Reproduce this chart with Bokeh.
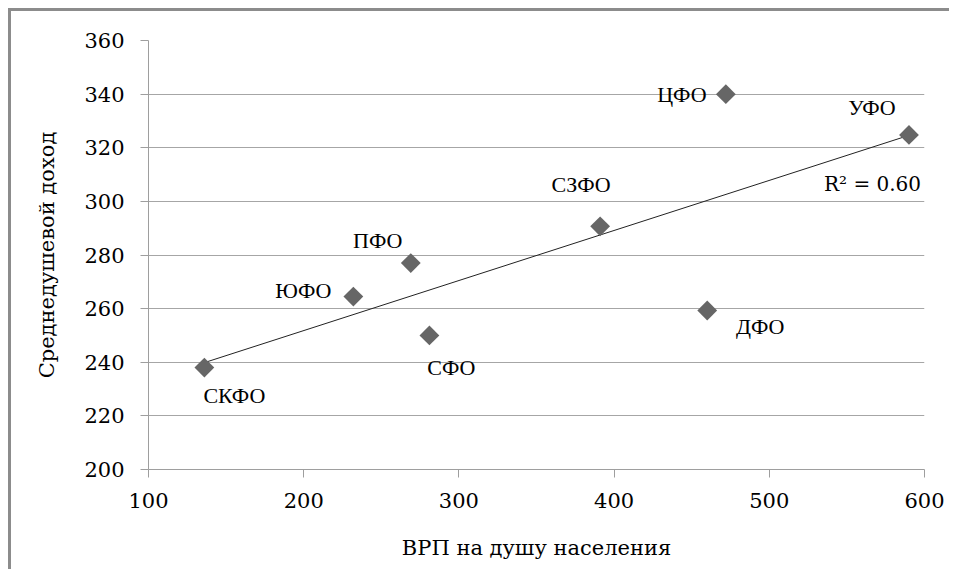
import numpy as np
from bokeh.plotting import figure
from bokeh.models import ColumnDataSource, FixedTicker, Label, LabelSet
from bokeh.embed import file_html
from bokeh.resources import INLINE

# Data
districts = ["СКФО", "ЮФО", "ПФО", "СФО", "СЗФО", "ДФО", "ЦФО", "УФО"]
grp_per_capita = [136, 232, 269, 281, 391, 460, 472, 590]
avg_income = [238, 264.5, 277, 250, 290.7, 259.3, 340, 324.8]
x_ticks = [100, 200, 300, 400, 500, 600]
y_ticks = [200, 220, 240, 260, 280, 300, 320, 340, 360]
x_title = "ВРП на душу населения"
y_title = "Среднедушевой доход"

# label offsets (screen px) per district (LabelSet: +y is up)
label_dx = {"СКФО": 30, "ЮФО": -50, "ПФО": -33, "СФО": 22, "СЗФО": -19, "ДФО": 53, "ЦФО": -44, "УФО": -37}
label_dy = {"СКФО": -28, "ЮФО": 6, "ПФО": 23, "СФО": -32, "СЗФО": 42, "ДФО": -16, "ЦФО": 0, "УФО": 27}

FONT = "DejaVu Serif"

xs = np.array(grp_per_capita, dtype=float)
ys = np.array(avg_income, dtype=float)
slope, intercept = np.polyfit(xs, ys, 1)
pred = slope * xs + intercept
r2 = 1 - np.sum((ys - pred) ** 2) / np.sum((ys - ys.mean()) ** 2)

src = ColumnDataSource(dict(
    x=grp_per_capita, y=avg_income, name=districts,
    dx=[label_dx[d] for d in districts], dy=[label_dy[d] for d in districts],
))

p = figure(width=941, height=561, x_range=(100, 600), y_range=(200, 360),
           output_backend="svg", toolbar_location=None,
           min_border_left=137, min_border_right=28, min_border_top=29, min_border_bottom=103)
p.styles = {"border-top": "3px solid #8c8c8c", "border-left": "3px solid #8c8c8c",
            "margin-left": "8px", "margin-top": "8px"}
p.outline_line_color = None
p.background_fill_color = "white"
p.border_fill_color = "white"

# trend line
tx = [xs.min(), xs.max()]
p.line(tx, [slope * t + intercept for t in tx], line_color="#222222", line_width=1)

p.scatter("x", "y", source=src, marker="square", size=14, angle=np.pi / 4,
          fill_color="#666666", line_color=None)

p.add_layout(LabelSet(x="x", y="y", text="name", source=src, x_offset="dx", y_offset="dy",
                      text_font=FONT, text_font_size="22px", text_align="center",
                      text_baseline="middle", text_color="black"))

p.add_layout(Label(x=566.5, y=306.3, text="R² = %.2f" % r2, text_font=FONT,
                   text_font_size="20px", text_align="center", text_baseline="middle",
                   text_color="black"))

for ax in (p.xaxis[0], p.yaxis[0]):
    ax.axis_line_color = "#9e9e9e"
    ax.major_tick_line_color = "#9e9e9e"
    ax.minor_tick_line_color = None
    ax.major_tick_out = 8
    ax.major_tick_in = 0
    ax.major_label_text_font = FONT
    ax.major_label_text_font_size = "21px"
    ax.major_label_text_color = "black"
    ax.axis_label_text_font = FONT
    ax.axis_label_text_font_size = "21px"
    ax.axis_label_text_font_style = "normal"
    ax.axis_label_text_color = "black"

p.xaxis.ticker = FixedTicker(ticks=x_ticks)
p.yaxis.ticker = FixedTicker(ticks=y_ticks)
p.xaxis.axis_label = x_title
p.yaxis.axis_label = y_title
p.xaxis.major_label_standoff = 15
p.yaxis.major_label_standoff = 16
p.xaxis.axis_label_standoff = 25
p.yaxis.axis_label_standoff = 22

p.xgrid.grid_line_color = None
p.ygrid.grid_line_color = "#a6a6a6"
p.ygrid.ticker = FixedTicker(ticks=y_ticks)

open("out.html", "w").write(file_html(p, INLINE))
